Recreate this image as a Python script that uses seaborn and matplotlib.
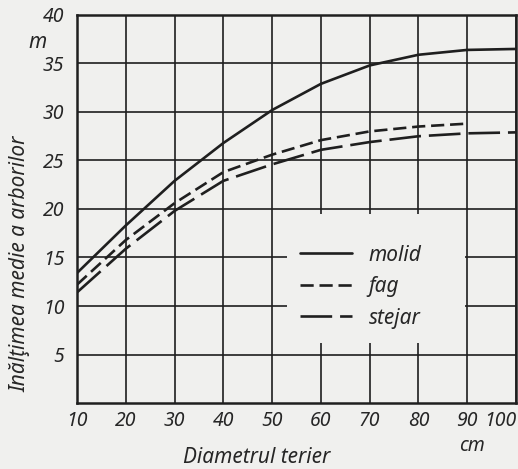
import matplotlib
matplotlib.use("Agg")
import matplotlib.pyplot as plt
from matplotlib.patches import Rectangle
import pandas as pd
import seaborn as sns

# valori (diametru in cm, inaltime in m)
diametru = [10, 20, 30, 40, 50, 60, 70, 80, 90, 100]
molid = [13.4, 18.3, 22.9, 26.8, 30.2, 32.9, 34.8, 35.9, 36.4, 36.5]
fag = [12.2, 16.8, 20.6, 23.8, 25.6, 27.1, 28.0, 28.5, 28.8]
stejar = [11.4, 15.9, 19.8, 22.9, 24.6, 26.1, 26.9, 27.5, 27.8, 27.9]

x_ticks = [10, 20, 30, 40, 50, 60, 70, 80, 90, 100]
y_ticks = [5, 10, 15, 20, 25, 30, 35, 40]
specii = ["molid", "fag", "stejar"]

bg = "#f0f0ee"
ink = "#1f1f1f"

sns.set_style("white")
plt.rcParams["font.family"] = ["Noto Sans", "DejaVu Sans"]
plt.rcParams["font.style"] = "italic"
plt.rcParams["font.stretch"] = "condensed"
plt.rcParams["font.weight"] = "bold"

df = pd.concat([
    pd.DataFrame({"d": diametru, "h": molid, "specie": "molid"}),
    pd.DataFrame({"d": diametru[:len(fag)], "h": fag, "specie": "fag"}),
    pd.DataFrame({"d": diametru, "h": stejar, "specie": "stejar"}),
])

fig = plt.figure(figsize=(5.18, 4.69), dpi=100, facecolor=bg)
ax = fig.add_axes([77 / 518, 66 / 469, 439 / 518, 388 / 469])
ax.set_facecolor(bg)

sns.lineplot(data=df, x="d", y="h", hue="specie", style="specie",
             hue_order=specii, style_order=specii,
             palette=[ink, ink, ink],
             dashes={"molid": "", "fag": (5, 2.2), "stejar": (12, 3)},
             linewidth=1.9, ax=ax, zorder=3)

ax.set_xlim(10, 100)
ax.set_ylim(0, 40)
ax.set_xticks(x_ticks)
ax.set_yticks(y_ticks)
ax.set_axisbelow(True)
ax.grid(True, color=ink, linewidth=1.2)
ax.tick_params(length=0, labelsize=14)
ax.tick_params(axis="x", pad=6)
ax.tick_params(axis="y", pad=9)
ax.get_xticklabels()[-1].set_horizontalalignment("right")
for s in ax.spines.values():
    s.set_color(ink)
    s.set_linewidth(1.8)

# zona alba din spatele legendei
ax.add_patch(Rectangle((53, 6.2), 36.6, 13.3, facecolor=bg,
                       edgecolor="none", zorder=1))

leg = ax.legend(loc="center left", bbox_to_anchor=(0.508, 0.30),
                frameon=False, fontsize=15, handlelength=2.5,
                handletextpad=0.8, labelspacing=0.5,
                borderpad=0, borderaxespad=0)

ax.set_xlabel("Diametrul terier", fontsize=15)
ax.xaxis.set_label_coords(0.41, -0.113)
ax.set_ylabel("Inălţimea medie a arborilor", fontsize=15)
ax.yaxis.set_label_coords(-0.105, 0.36)

fig.text(38 / 518, 1 - 42 / 469, "m", fontsize=15, ha="center", va="center")
fig.text(472 / 518, 23 / 469, "cm", fontsize=14, ha="center", va="center")

fig.savefig("out.png", dpi=100, facecolor=bg)
